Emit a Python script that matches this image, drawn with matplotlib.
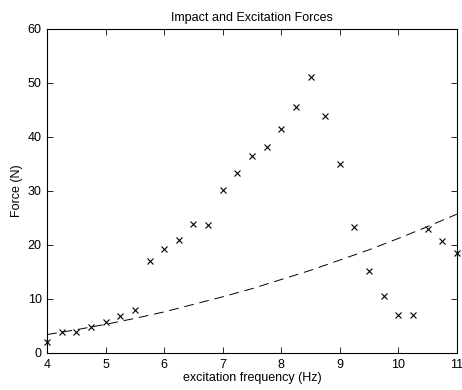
import matplotlib
matplotlib.use("Agg")
import matplotlib.pyplot as plt

plt.rcParams['font.family'] = ['Liberation Sans', 'DejaVu Sans']

# measured impact forces
freq = [4.0, 4.25, 4.5, 4.75, 5.0, 5.25, 5.5, 5.75, 6.0, 6.25, 6.5, 6.75, 7.0, 7.25,
        7.5, 7.75, 8.0, 8.25, 8.5, 8.75, 9.0, 9.25, 9.5, 9.75, 10.0, 10.25, 10.5, 10.75, 11.0]
force = [2.0, 3.8, 3.8, 4.8, 5.8, 6.9, 8.0, 17.0, 19.3, 20.9, 23.9, 23.6, 30.2, 33.3,
         36.4, 38.1, 41.5, 45.5, 51.1, 43.8, 35.0, 23.3, 15.1, 10.6, 7.1, 7.0, 23.0, 20.8, 18.5]

# excitation force (dashed curve)
exc_freq = [4.0, 4.5, 5.0, 5.5, 6.0, 6.5, 7.0, 7.5, 8.0, 8.5, 9.0, 9.5, 10.0, 10.5, 11.0]
exc_force = [3.4, 4.3, 5.3, 6.4, 7.6, 9.0, 10.4, 11.9, 13.6, 15.3, 17.2, 19.1, 21.2, 23.4, 25.7]

fig = plt.figure(figsize=(4.62, 3.9), dpi=100)
ax = fig.add_axes([0.102, 0.095, 0.887, 0.831])

ax.plot(freq, force, 'kx', markersize=4.5, markeredgewidth=0.8, clip_on=False)
ax.plot(exc_freq, exc_force, 'k--', linewidth=0.7, dashes=(10, 6))

ax.set_xlim(4, 11)
ax.set_ylim(0, 60)
ax.set_xticks(range(4, 12))
ax.set_yticks(range(0, 61, 10))
ax.tick_params(direction='in', top=True, right=True, labelsize=9, length=4, width=0.6, pad=4)
for s in ax.spines.values():
    s.set_linewidth(0.8)

ax.set_xlabel('excitation frequency (Hz)', fontsize=9, labelpad=1)
ax.set_ylabel('Force (N)', fontsize=9, labelpad=3)
ax.set_title('Impact and Excitation Forces', fontsize=9, pad=6)

fig.savefig('out.png', dpi=100)
